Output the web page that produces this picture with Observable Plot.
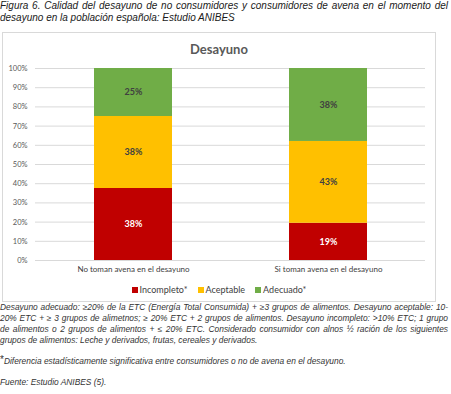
<!DOCTYPE html>
<html><head><meta charset="utf-8">
<script src="https://cdn.jsdelivr.net/npm/d3@7"></script>
<script src="https://cdn.jsdelivr.net/npm/@observablehq/plot@0.6"></script>
<style>
body{margin:0;width:451px;height:394px;overflow:hidden;background:#fff;font-family:"Liberation Sans",Arial,sans-serif;position:relative}
.jl{white-space:nowrap;text-align:justify;text-align-last:justify}
.nl{white-space:nowrap}
#cap{position:absolute;left:0;top:0;width:448px;font-style:italic;font-size:10px;line-height:12px;color:#1a1a1a}
#box{position:absolute;left:2px;top:32px;width:432px;height:268px;border:1px solid #d9d9d9;box-sizing:content-box}
#ttl{position:absolute;top:8px;left:0;width:100%;text-align:center;font:bold 13px Lato,sans-serif;color:#595959}
#chart{position:absolute;left:1px;top:27px}
#leg{position:absolute;top:251px;left:0;width:100%;text-align:center;font:9px Lato,sans-serif;color:#404040;line-height:12px}
#leg span.it{margin:0 5px;white-space:nowrap}
#leg span.sw{display:inline-block;width:6px;height:6px;margin-right:2px;vertical-align:0px}
#notes{position:absolute;left:0;top:302px;width:448px;font-style:italic;font-size:8.4px;line-height:11px;color:#333}
</style>
</head><body>
<div id="cap"></div>
<div id="box"><div id="ttl"></div><div id="chart"></div><div id="leg"></div></div>
<div id="notes"></div>
<script>
const captionLines = ["Figura 6. Calidad del desayuno de no consumidores y consumidores de avena en el momento del", "desayuno en la población española: Estudio ANIBES"];
const chartTitle = "Desayuno";
const categories = ["No toman avena en el desayuno", "Si toman avena en el desayuno"];
const series = ["Incompleto*", "Aceptable", "Adecuado*"];
const seriesColors = ["#C00000", "#FFC000", "#70AD47"];
const incompleto = [37.5, 19.4];
const aceptable = [37.5, 42.6];
const adecuado = [25, 38];
const yTicks = [0, 10, 20, 30, 40, 50, 60, 70, 80, 90, 100];
const noteLines = [
  "Desayuno adecuado: ≥20% de la ETC (Energía Total Consumida) + ≥3 grupos de alimentos. Desayuno aceptable: 10-",
  "20% ETC + ≥ 3 grupos de alimetnos; ≥ 20% ETC + 2 grupos de alimentos. Desayuno incompleto: >10% ETC; 1 grupo",
  "de alimentos o 2 grupos de alimentos + ≤ 20% ETC. Considerado consumidor con alnos ½ ración de los siguientes",
  "grupos de alimentos: Leche y derivados, frutas, cereales y derivados."
];
const sigNote = "Diferencia estadísticamente significativa entre consumidores o no de avena en el desayuno.";
const sourceNote = "Fuente: Estudio ANIBES (5).";

// caption
const cap = document.getElementById("cap");
captionLines.forEach((t, i) => {
  const d = document.createElement("div");
  d.className = i < captionLines.length - 1 ? "jl" : "nl";
  d.textContent = t;
  cap.appendChild(d);
});
document.getElementById("ttl").textContent = chartTitle;

// data table
const valuesBySeries = [incompleto, aceptable, adecuado];
const data = [];
categories.forEach((c, i) => series.forEach((s, j) => data.push({cat: c, series: s, value: valuesBySeries[j][i]})));
const fmt = d => Math.round(d.value) + "%";

const chart = Plot.plot({
  width: 430, height: 218,
  marginTop: 8, marginBottom: 18, marginLeft: 31, marginRight: 9,
  style: {fontFamily: "Lato, sans-serif", background: "transparent"},
  x: {domain: categories, paddingInner: 0.6, paddingOuter: 0.3, label: null, tickSize: 0},
  y: {domain: [0, 100], label: null},
  color: {domain: series, range: seriesColors},
  marks: [
    Plot.gridY(yTicks, {stroke: "#d9d9d9", strokeOpacity: 1}),
    Plot.axisY(yTicks, {tickSize: 0, tickPadding: 8, tickFormat: d => d + "%", fontSize: 7.5, fill: "#595959", label: null}),
    Plot.axisX({tickSize: 0, tickPadding: 6, fontSize: 8, fill: "#404040", label: null}),
    Plot.barY(data, Plot.stackY({x: "cat", y: "value", fill: "series", z: "series", order: series})),
    Plot.text(data, Plot.stackY({x: "cat", y: "value", z: "series", order: series, text: d => d.series === series[0] ? fmt(d) : "", fill: "white", fontSize: 9, fontWeight: "bold"})),
    Plot.text(data, Plot.stackY({x: "cat", y: "value", z: "series", order: series, text: d => d.series === series[0] ? "" : fmt(d), fill: "#404040", fontSize: 9, fontWeight: "bold"}))
  ]
});
document.getElementById("chart").appendChild(chart);

// legend
const leg = document.getElementById("leg");
series.forEach((s, i) => {
  const it = document.createElement("span"); it.className = "it";
  const sw = document.createElement("span"); sw.className = "sw"; sw.style.background = seriesColors[i];
  it.appendChild(sw); it.appendChild(document.createTextNode(s));
  leg.appendChild(it);
});

// notes
const notes = document.getElementById("notes");
noteLines.forEach((t, i) => {
  const d = document.createElement("div");
  d.className = i < noteLines.length - 1 ? "jl" : "nl";
  d.textContent = t;
  notes.appendChild(d);
});
const sig = document.createElement("div");
sig.style.marginTop = "8px";
sig.innerHTML = '<span style="font-style:normal;font-size:10px;vertical-align:1px">*</span>' + sigNote;
notes.appendChild(sig);
const src = document.createElement("div");
src.style.marginTop = "10px";
src.textContent = sourceNote;
notes.appendChild(src);
</script>
</body></html>
